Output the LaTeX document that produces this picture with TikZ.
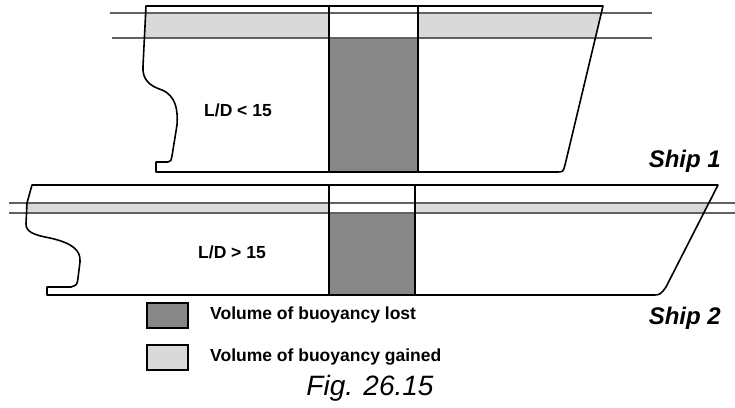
\documentclass[tikz,border=0pt]{standalone}
\usepackage{fontspec}
\setmainfont{Liberation Sans}
\begin{document}
\begin{tikzpicture}[x=1pt,y=-1pt,
   hull/.style={draw=black,line width=1.6pt,line join=round},
   wline/.style={draw=black!62,line width=1.5pt},
   lost/.style={fill=black!47},
   gained/.style={fill=black!15},
   keybox/.style={draw=black,line width=1.4pt,minimum width=41pt,minimum height=25pt,inner sep=0pt},
   lbl/.style={font=\bfseries\fontsize{17.5}{20}\selectfont,inner sep=0pt},
   shiplbl/.style={font=\bfseries\itshape\fontsize{24}{28}\selectfont,inner sep=0pt}]

\useasboundingbox (0,0) rectangle (735,407);

% Ship 1
\fill[gained] (145,13) -- (329,13) -- (329,38) -- (144,38) -- cycle;
\fill[gained] (418,13) -- (601,13) -- (595,38) -- (418,38) -- cycle;
\fill[lost] (329,38) rectangle (418,172);
\draw[wline] (110,13) -- (652,13);
\draw[wline] (112,38) -- (652,38);
\draw[hull] (146,6) -- (143,66) .. controls (142,80) and (150,86) .. (162,90)
   .. controls (176,96) and (178,110) .. (177,125) -- (172,156)
   .. controls (171,161) .. (168,162) -- (156,162) -- (156,172) -- (557,172)
   .. controls (563,172) .. (565,165) -- (603,6) -- cycle;
\draw[hull] (329,6) -- (329,172);
\draw[hull] (418,6) -- (418,172);

% Ship 2
\fill[gained] (27,203) -- (329,203) -- (329,213) -- (26,213) -- cycle;
\fill[gained] (415,203) -- (709,203) -- (704,213) -- (415,213) -- cycle;
\fill[lost] (329,213) rectangle (415,295);
\draw[wline] (9,203) -- (735,203);
\draw[wline] (9,213) -- (735,213);
\draw[hull] (32,185) -- (27,203) -- (26,224) .. controls (26,232) and (34,235) .. (50,238)
   .. controls (72,243) and (81,250) .. (80,262) -- (78,278)
   .. controls (77,285) .. (71,287) -- (47,287) -- (47,295) -- (652,295)
   .. controls (660,295) .. (666,287) -- (718,185) -- cycle;
\draw[hull] (329,185) -- (329,295);
\draw[hull] (415,185) -- (415,295);

\node[lbl] (ld1) at (238,110) {L/D < 15};
\node[lbl] (ld2) at (232,252) {L/D > 15};
\node[shiplbl,anchor=east] (s1) at (721,161) {Ship 1};
\node[shiplbl,anchor=east] (s2) at (721,318) {Ship 2};

% key
\node[keybox,lost] (klost) at (167.5,315.5) {};
\node[keybox,gained] (kgain) at (167.5,357.5) {};
\node[lbl,anchor=west] (tlost) at (210,315) {Volume of buoyancy lost};
\node[lbl,anchor=west] (tgain) at (210,357) {Volume of buoyancy gained};
\node[font=\itshape\fontsize{28}{32}\selectfont,inner sep=0pt] (fig) at (370,388) {Fig. 26.15};

\end{tikzpicture}
\end{document}
